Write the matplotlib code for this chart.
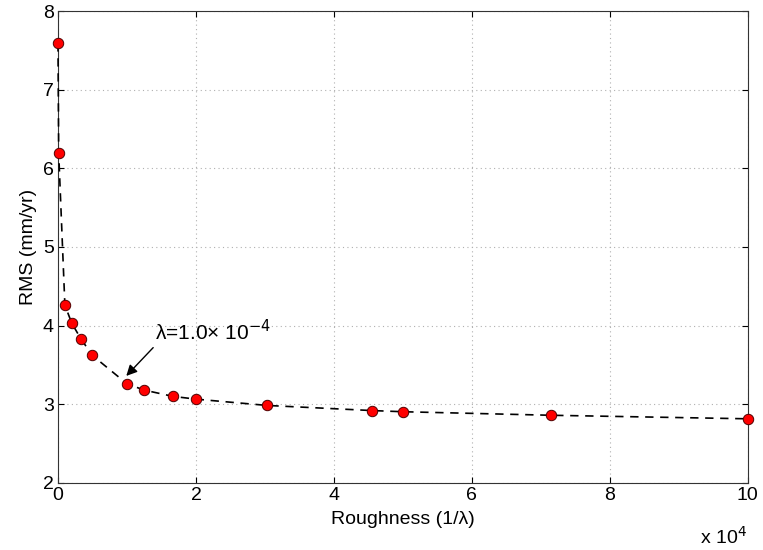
import numpy as np
import matplotlib.pyplot as plt
from matplotlib.ticker import FuncFormatter

plt.rcParams['font.family'] = ['Liberation Sans', 'DejaVu Sans']

roughness = [0, 100, 1000, 2000, 3333, 5000, 10000, 12500, 16667, 20000,
             30303, 45455, 50000, 71429, 100000]
rms = [7.59, 6.20, 4.26, 4.03, 3.83, 3.62, 3.26, 3.18, 3.10, 3.065,
       2.985, 2.92, 2.905, 2.86, 2.815]

fig = plt.figure(figsize=(7.63, 5.5), dpi=100)
ax = fig.add_axes([0.076, 0.122, 0.904, 0.858])

ax.plot(roughness, rms, '--', color='black', lw=1.2, dashes=(5, 4),
        marker='o', markersize=7.5, markerfacecolor='red',
        markeredgecolor='#500000', markeredgewidth=0.7, clip_on=False, zorder=5)

ax.set_xlim(0, 100000)
ax.set_ylim(2, 8)
ax.set_xticks(np.arange(0, 100001, 20000))
ax.set_yticks(np.arange(2, 9, 1))
ax.xaxis.set_major_formatter(FuncFormatter(lambda v, p: '%g' % (v / 1e4)))
ax.tick_params(direction='in', top=True, right=True, labelsize=14, length=4,
               width=0.8, colors='black', pad=3)
ax.grid(True, linestyle=(0, (1, 3)), color='#b0b0b0', lw=0.8)
for s in ax.spines.values():
    s.set_linewidth(0.8)
    s.set_color('#333333')

ax.set_xlabel('Roughness (1/λ)', fontsize=14, labelpad=5)
ax.set_ylabel('RMS (mm/yr)', fontsize=14, labelpad=4)

ax.text(14100, 3.93, 'λ=1.0× 10$^{-4}$', fontsize=15, va='center', ha='left')
ax.annotate('', xy=(9900, 3.36), xytext=(13800, 3.72),
            arrowprops=dict(arrowstyle='-|>', color='black', lw=1,
                            mutation_scale=16, shrinkA=0, shrinkB=0))

fig.text(0.918, 0.012, 'x 10$^4$', fontsize=14)

fig.savefig('out.png', dpi=100)
